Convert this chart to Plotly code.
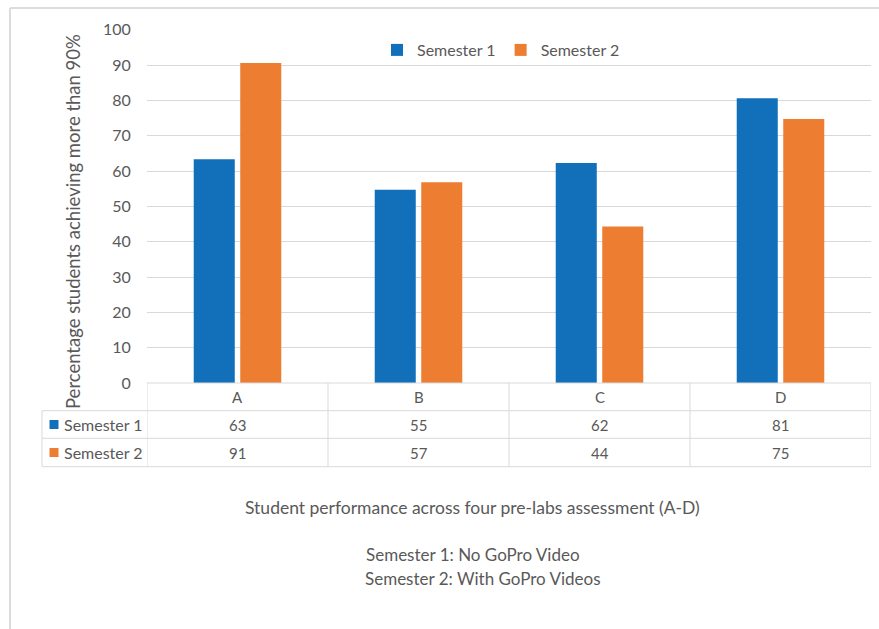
import plotly.graph_objects as go

categories = ["A", "B", "C", "D"]
series_names = ["Semester 1", "Semester 2"]
semester1 = [63.3, 54.7, 62.3, 80.6]
semester2 = [90.6, 56.8, 44.3, 74.7]
colors = ["#1170B9", "#ED7D31"]

W, H = 879, 629
FONT = "Lato"
TXT = "#595959"
GRID = "#D9D9D9"

def px(x):
    return x / W

def py(y):
    return 1 - y / H

fig = go.Figure()
for name, vals, col in zip(series_names, [semester1, semester2], colors):
    fig.add_trace(go.Bar(x=categories, y=vals, name=name, marker_color=col,
                         marker_line_width=0))

plot_top, plot_bot = 29.7, 383
fig.update_layout(
    width=W, height=H, autosize=False,
    margin=dict(l=0, r=0, t=0, b=0, pad=0, autoexpand=False),
    paper_bgcolor="white", plot_bgcolor="white",
    barmode="group", bargap=0.486, bargroupgap=0.118,
    font=dict(family=FONT, color=TXT),
    showlegend=True,
    legend=dict(orientation="h", x=px(501), xanchor="center", y=py(50), yanchor="middle",
                font=dict(size=16, color=TXT), itemsizing="constant", itemwidth=30,
                bgcolor="rgba(0,0,0,0)", traceorder="normal"),
    xaxis=dict(domain=[px(147), px(871)], range=[-0.5, 3.5], showticklabels=False,
               showgrid=False, zeroline=False, showline=False, ticks="", automargin=False),
    yaxis=dict(domain=[py(plot_bot), py(plot_top)], range=[0, 100], dtick=10,
               showgrid=True, gridcolor=GRID, gridwidth=1, zeroline=False, showline=False,
               ticks="outside", ticklen=12, tickcolor="rgba(0,0,0,0)", automargin=False,
               tickfont=dict(size=16, color=TXT)),
)

shapes = []
line = dict(color=GRID, width=1)
row_y = [383, 410.7, 438.3, 466.7]
# horizontal table lines
shapes.append(dict(type="line", xref="x", yref="paper", x0=-0.5, x1=3.5,
                   y0=py(row_y[0]), y1=py(row_y[0]), line=line))
for yy in row_y[1:]:
    shapes.append(dict(type="line", xref="paper", yref="paper", x0=px(42), x1=px(871),
                       y0=py(yy), y1=py(yy), line=line))
# vertical table lines
shapes.append(dict(type="line", xref="paper", yref="paper", x0=px(42), x1=px(42),
                   y0=py(row_y[1]), y1=py(row_y[3]), line=line))
for i in range(len(categories) + 1):
    xx = i - 0.5
    shapes.append(dict(type="line", xref="x", yref="paper", x0=xx, x1=xx,
                       y0=py(row_y[0]), y1=py(row_y[3]), line=line))
# outer frame
frame = dict(color="#DCDCDC", width=2)
shapes.append(dict(type="line", xref="paper", yref="paper", x0=px(10), x1=1,
                   y0=py(8), y1=py(8), line=frame))
shapes.append(dict(type="line", xref="paper", yref="paper", x0=px(10), x1=px(10),
                   y0=py(8), y1=0, line=frame))

def note(x, y, text, size, xanchor="center", angle=0, xref="paper"):
    return dict(x=x, y=y, xref=xref, yref="paper", text=text, textangle=angle,
                xanchor=xanchor, yanchor="middle", showarrow=False,
                font=dict(size=size, color=TXT, family=FONT))

annotations = []
row_centers = [(row_y[0] + row_y[1]) / 2, (row_y[1] + row_y[2]) / 2, (row_y[2] + row_y[3]) / 2]
for c in categories:
    annotations.append(note(c, py(row_centers[0]), c, 15, xref="x"))
for r, (name, vals, col) in enumerate(zip(series_names, [semester1, semester2], colors)):
    yc = row_centers[r + 1]
    for c, v in zip(categories, vals):
        annotations.append(note(c, py(yc), str(round(v)), 15, xref="x"))
    shapes.append(dict(type="rect", xref="paper", yref="paper", x0=px(49.5), x1=px(58.5),
                       y0=py(yc + 4.5), y1=py(yc - 4.5), fillcolor=col, line=dict(width=0)))
    annotations.append(note(px(62), py(yc), name, 16, xanchor="left"))

# y axis title
annotations.append(note(px(73), py(222), "Percentage students achieving more than 90%", 18.5,
                        angle=-90))
# x axis title & notes
annotations.append(note(px(472), py(507),
                        "Student performance across four pre-labs assessment (A-D)", 17.5))
annotations.append(note(px(364), py(554), "Semester 1: No GoPro Video", 17, xanchor="left"))
annotations.append(note(px(363), py(578), "Semester 2: With GoPro Videos", 17, xanchor="left"))

fig.update_layout(shapes=shapes, annotations=annotations)

fig.write_html("out.html", config={"displayModeBar": False},
               post_script="document.body.style.margin='0';document.body.style.overflow='hidden';")
